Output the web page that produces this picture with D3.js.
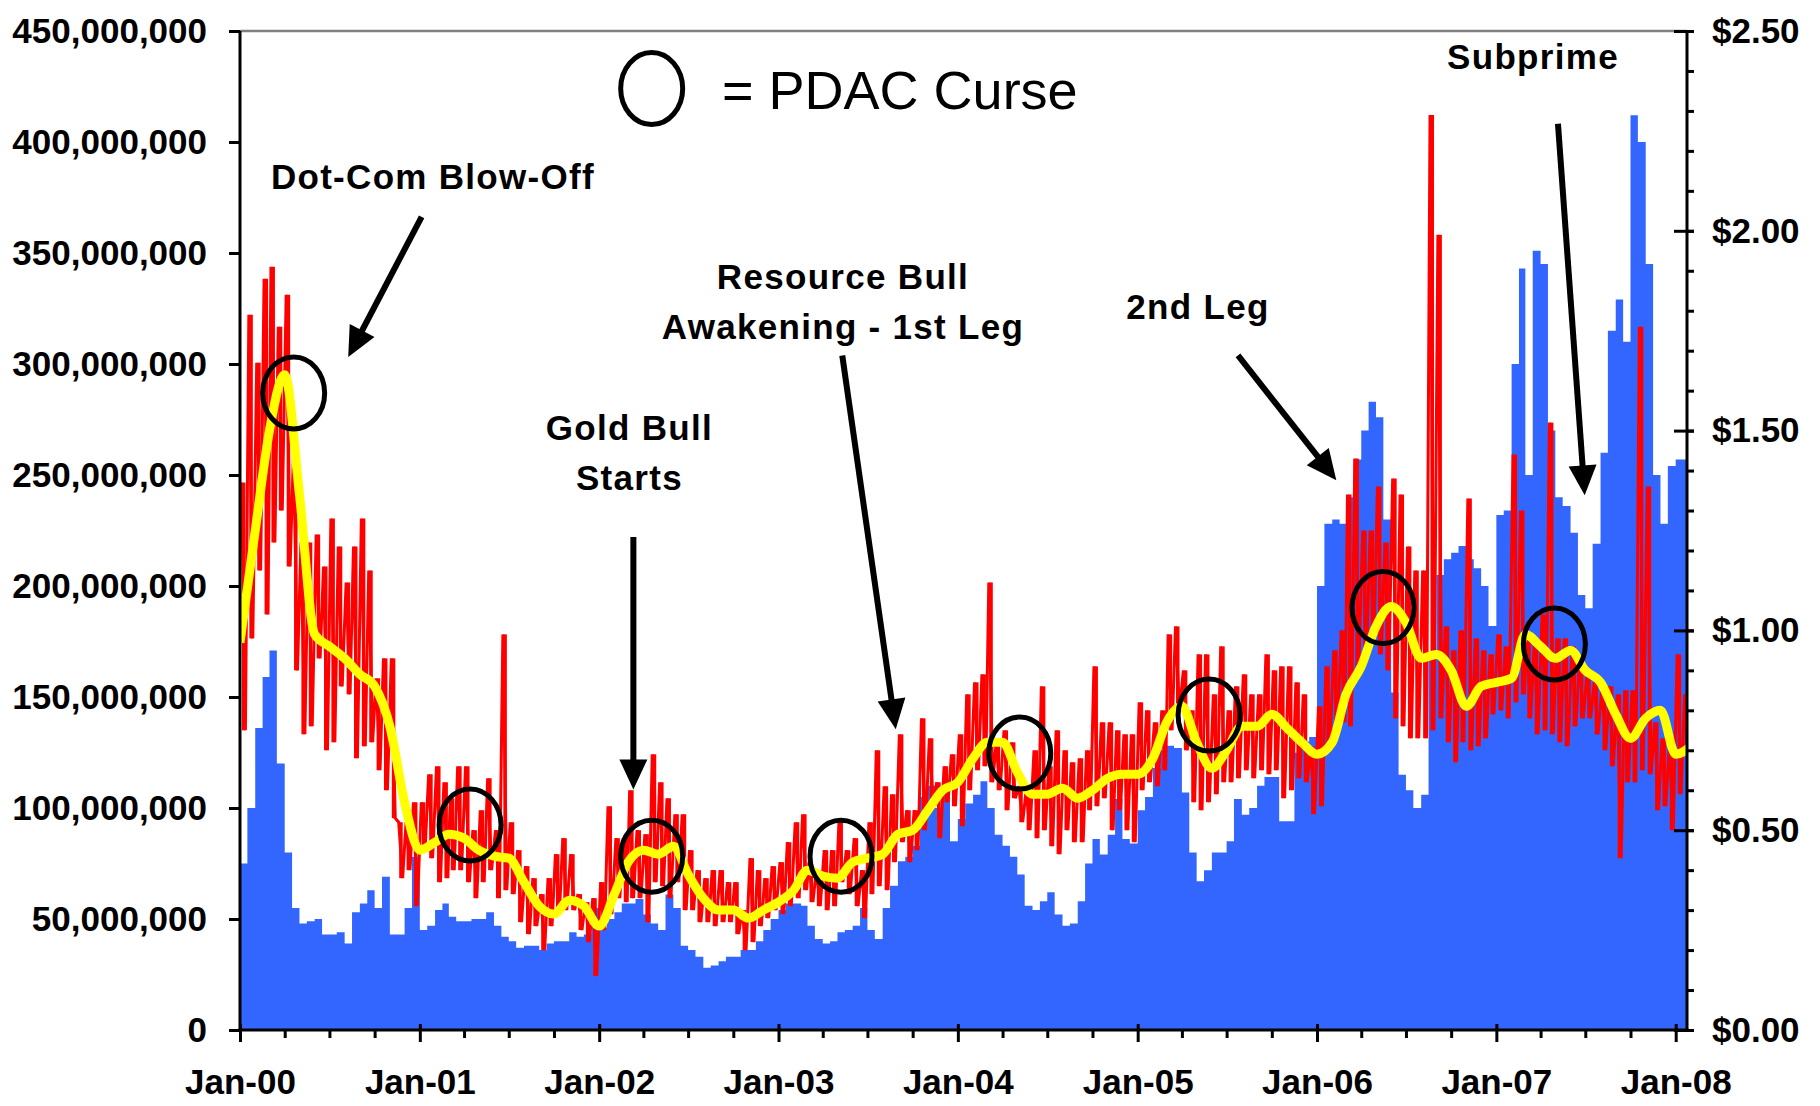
<!DOCTYPE html>
<html>
<head>
<meta charset="utf-8">
<title>PDAC Curse</title>
<script src="https://cdn.jsdelivr.net/npm/d3@7"></script>
<style>
body { margin: 0; background: #fff; }
svg { display: block; }
.axis text { font: bold 35px "Liberation Sans", Arial, sans-serif; fill: #000; }
.axis line { stroke: #000; stroke-width: 3; }
.axis path { display: none; }
.note text { font: bold 35px "Liberation Sans", Arial, sans-serif; letter-spacing: 1.3px; fill: #000; text-anchor: middle; }
.legend text { font: 54px "Liberation Sans", Arial, sans-serif; fill: #000; }
</style>
</head>
<body>
<div id="chart"></div>
<script>
// volume in millions of shares, two periods a month (1st and 16th), Jan-00 .. Jan-08
var volume = [
  75,100,136,159,171,120,80,55,48,49,50,43,43,44,39,53,57,63,55,69,43,43,55,78,
  45,47,54,57,51,49,49,50,50,53,47,42,40,37,38,38,36,39,40,40,44,42,43,55,
  46,50,53,57,57,59,52,48,45,61,55,38,36,33,28,29,31,33,33,36,36,40,45,50,
  54,57,57,56,47,41,39,40,44,45,47,55,45,41,55,65,76,78,83,105,110,100,110,85,
  95,102,106,112,100,88,83,78,70,56,54,58,62,52,47,48,58,75,86,79,88,104,86,84,
  99,105,118,126,128,127,107,80,67,72,80,80,85,104,97,100,110,114,114,94,94,125,130,132,
  200,228,230,228,240,257,270,283,276,230,152,115,108,100,106,170,205,212,215,218,212,208,200,182,
  232,234,300,343,250,351,345,270,240,236,224,196,190,219,260,315,329,310,412,400,345,250,228,254,
  257,257
];

// daily price range ($) for the same periods
var priceHigh = [
  1.37,1.79,1.67,1.88,1.91,1.76,1.84,1.45,1.22,1.22,1.24,1.16,1.28,1.21,1.12,1.21,1.28,1.15,0.88,0.93,0.93,0.52,0.52,0.57,
  0.57,0.64,0.66,0.62,0.58,0.66,0.66,0.50,0.55,0.63,0.50,0.99,0.52,0.45,0.41,0.38,0.34,0.38,0.44,0.48,0.44,0.34,0.32,0.33,
  0.37,0.56,0.48,0.48,0.60,0.50,0.49,0.69,0.62,0.58,0.54,0.54,0.45,0.40,0.38,0.40,0.40,0.37,0.37,0.30,0.43,0.40,0.38,0.41,
  0.42,0.47,0.52,0.54,0.42,0.40,0.45,0.45,0.52,0.45,0.48,0.40,0.52,0.70,0.61,0.59,0.74,0.55,0.55,0.78,0.73,0.62,0.66,0.69,
  0.74,0.84,0.87,0.89,1.12,0.72,0.75,0.72,0.61,0.60,0.70,0.86,0.66,0.75,0.70,0.67,0.68,0.70,0.91,0.77,0.77,0.75,0.74,0.74,
  0.82,0.80,0.77,0.80,0.99,1.01,0.90,0.80,0.94,0.94,0.84,0.96,0.80,0.86,0.89,0.84,0.84,0.94,0.90,0.91,0.91,0.87,0.84,0.71,
  0.81,0.91,0.95,1.00,1.34,1.43,1.25,1.25,1.36,1.22,1.38,1.34,1.21,1.15,1.15,2.29,1.99,1.01,0.95,1.00,1.33,0.98,0.95,0.94,
  0.99,0.96,1.44,1.30,0.98,0.97,1.04,1.52,0.98,0.98,0.96,0.93,0.89,0.87,0.86,0.86,0.84,0.85,0.85,1.76,1.36,0.77,0.73,0.72,
  0.94,0.84
];
var priceLow = [
  0.75,0.98,1.15,1.04,1.22,1.30,1.16,0.90,0.74,0.76,0.93,0.70,0.72,0.86,0.84,0.68,0.71,0.72,0.65,0.60,0.53,0.38,0.40,0.31,
  0.46,0.43,0.37,0.38,0.40,0.40,0.37,0.33,0.37,0.40,0.33,0.35,0.34,0.27,0.24,0.26,0.20,0.26,0.29,0.30,0.30,0.25,0.22,0.135,
  0.25,0.29,0.33,0.32,0.33,0.33,0.27,0.37,0.36,0.33,0.37,0.30,0.30,0.27,0.27,0.26,0.27,0.27,0.24,0.20,0.22,0.26,0.28,0.30,
  0.29,0.31,0.33,0.35,0.32,0.31,0.30,0.31,0.37,0.34,0.31,0.28,0.34,0.36,0.35,0.42,0.47,0.42,0.45,0.50,0.56,0.48,0.57,0.56,
  0.51,0.60,0.65,0.66,0.62,0.60,0.55,0.58,0.52,0.50,0.48,0.50,0.46,0.44,0.50,0.47,0.47,0.55,0.56,0.58,0.50,0.55,0.50,0.47,
  0.60,0.62,0.61,0.65,0.75,0.80,0.70,0.57,0.55,0.57,0.59,0.62,0.62,0.63,0.65,0.63,0.65,0.64,0.65,0.58,0.60,0.63,0.62,0.54,
  0.56,0.70,0.74,0.77,0.76,0.90,0.93,0.97,0.94,0.90,0.78,0.76,0.73,0.73,0.73,0.75,0.78,0.72,0.67,0.72,0.70,0.71,0.73,0.79,
  0.80,0.78,0.82,0.84,0.78,0.74,0.75,0.74,0.72,0.71,0.76,0.78,0.78,0.74,0.70,0.66,0.43,0.62,0.62,0.65,0.64,0.55,0.56,0.50,
  0.59,0.71
];

// moving average ($), first of each month from Jan-00
var priceAvg = [
  0.97,1.25,1.50,1.64,1.34,0.99,0.96,0.93,0.89,0.86,0.76,0.57,
  0.45,0.47,0.49,0.48,0.45,0.435,0.43,0.37,0.31,0.29,0.325,0.31,
  0.26,0.34,0.42,0.45,0.44,0.46,0.39,0.33,0.30,0.30,0.28,0.30,
  0.32,0.35,0.40,0.385,0.38,0.42,0.43,0.44,0.49,0.50,0.55,0.60,
  0.62,0.68,0.72,0.72,0.645,0.59,0.59,0.605,0.58,0.60,0.63,0.64,
  0.64,0.68,0.77,0.81,0.72,0.655,0.70,0.76,0.76,0.79,0.755,0.72,
  0.69,0.72,0.84,0.91,1.01,1.06,1.02,0.93,0.94,0.90,0.81,0.86,
  0.87,0.88,0.99,0.96,0.93,0.95,0.90,0.87,0.79,0.73,0.78,0.80,
  0.69,0.71
];

// PDAC curse circles: decimal year, price
var curseYears  = [2000.299, 2001.282, 2002.294, 2003.349, 2004.345, 2005.400, 2006.369, 2007.324];
var cursePrices = [1.594, 0.513, 0.435, 0.435, 0.693, 0.788, 1.057, 0.966];

var notes = [
  {lines: ["Dot-Com Blow-Off"], yr: 2001.075, p: 2.105},
  {lines: ["Gold Bull", "Starts"], yr: 2002.170, p: 1.476},
  {lines: ["Resource Bull", "Awakening - 1st Leg"], yr: 2003.360, p: 1.855},
  {lines: ["2nd Leg"], yr: 2005.338, p: 1.780},
  {lines: ["Subprime"], yr: 2007.205, p: 2.405}
];
var arrows = [
  {from: [2001.012, 2.035], to: [2000.603, 1.684]},
  {from: [2002.192, 1.234], to: [2002.192, 0.602]},
  {from: [2003.356, 1.688], to: [2003.654, 0.7525]},
  {from: [2005.561, 1.688], to: [2006.109, 1.376]},
  {from: [2007.344, 2.268], to: [2007.493, 1.338]}
];

var W = 1820, H = 1106;
var plot = {left: 240, right: 1687, top: 31, bottom: 1030};

var svg = d3.select("#chart").append("svg").attr("width", W).attr("height", H);

var start = new Date(2000, 0, 1), end = new Date(2008, 0, 24);
var x = d3.scaleTime().domain([start, end]).range([plot.left, plot.right]);
var yVol = d3.scaleLinear().domain([0, 450e6]).range([plot.bottom, plot.top]);
var yPrice = d3.scaleLinear().domain([0, 2.5]).range([plot.bottom, plot.top]);

function periodDate(k) {
  return new Date(2000 + Math.floor(k / 24), Math.floor((k % 24) / 2), k % 2 ? 16 : 1);
}
function yearDate(yr) {
  return new Date(start.getTime() + (yr - 2000) * 365.25 * 864e5);
}

svg.append("clipPath").attr("id", "clip").append("rect")
  .attr("x", plot.left).attr("y", plot.top)
  .attr("width", plot.right - plot.left).attr("height", plot.bottom - plot.top);

var g = svg.append("g").attr("clip-path", "url(#clip)");

// volume area
var volData = volume.map(function(v, k) { return {d: periodDate(k), v: v * 1e6}; });
volData.push({d: end, v: volume[volume.length - 1] * 1e6});
g.append("path")
  .datum(volData)
  .attr("fill", "#3366ff")
  .attr("d", d3.area().curve(d3.curveStepAfter)
    .x(function(d) { return x(d.d); })
    .y0(yVol(0))
    .y1(function(d) { return yVol(d.v); }));

// daily price: high/low range bars plus the swings between them
g.append("g").selectAll("rect")
  .data(priceHigh)
  .enter().append("rect")
    .attr("x", function(d, k) { return x(d3.timeDay.offset(periodDate(k), 4)); })
    .attr("width", 3.5)
    .attr("y", function(d) { return yPrice(d); })
    .attr("height", function(d, k) { return yPrice(priceLow[k]) - yPrice(d); })
    .attr("fill", "#ff0000");

var pricePts = [];
priceHigh.forEach(function(h, k) {
  var d0 = periodDate(k);
  pricePts.push([d3.timeDay.offset(d0, 3), h]);
  pricePts.push([d3.timeDay.offset(d0, 11), priceLow[k]]);
});
g.append("path")
  .datum(pricePts)
  .attr("fill", "none")
  .attr("stroke", "#ff0000")
  .attr("stroke-width", 3)
  .attr("d", d3.line()
    .x(function(d) { return x(d[0]); })
    .y(function(d) { return yPrice(d[1]); }));

// moving average
g.append("path")
  .datum(priceAvg)
  .attr("fill", "none")
  .attr("stroke", "#ffff00")
  .attr("stroke-width", 9)
  .attr("stroke-linejoin", "round")
  .attr("d", d3.line().curve(d3.curveMonotoneX)
    .x(function(d, i) { return x(new Date(2000, i, 1)); })
    .y(function(d) { return yPrice(d); }));

// curse circles
svg.append("g").selectAll("ellipse")
  .data(curseYears)
  .enter().append("ellipse")
    .attr("cx", function(d) { return x(yearDate(d)); })
    .attr("cy", function(d, i) { return yPrice(cursePrices[i]); })
    .attr("rx", 31).attr("ry", 36)
    .attr("fill", "none").attr("stroke", "#000").attr("stroke-width", 5);

// frame
svg.append("line")
  .attr("x1", plot.left).attr("x2", plot.right)
  .attr("y1", plot.top).attr("y2", plot.top)
  .attr("stroke", "#808080").attr("stroke-width", 2.5);

// left axis
svg.append("g").attr("class", "axis")
  .attr("transform", "translate(" + plot.left + ",0)")
  .call(d3.axisLeft(yVol).tickValues(d3.range(0, 450e6 + 1, 50e6))
    .tickSize(11).tickPadding(22).tickFormat(d3.format(",")));

// right axis
svg.append("g").attr("class", "axis")
  .attr("transform", "translate(" + plot.right + ",0)")
  .call(d3.axisRight(yPrice).tickValues(d3.range(0, 2.51, 0.1))
    .tickSize(7).tickFormat(""));
svg.append("g").attr("class", "axis")
  .attr("transform", "translate(" + plot.right + ",0)")
  .call(d3.axisRight(yPrice).tickValues(d3.range(0, 2.51, 0.5))
    .tickSize(7).tickPadding(18).tickFormat(function(d) { return "$" + d3.format(".2f")(d); }));
svg.append("g").attr("class", "axis")
  .attr("transform", "translate(" + plot.right + ",0)")
  .call(d3.axisLeft(yPrice).tickValues(d3.range(0, 2.51, 0.5))
    .tickSize(13).tickFormat(""));

// bottom axis
var years = d3.timeYear.range(start, end);
var quarters = d3.timeMonth.every(3).range(start, end).filter(function(d) { return d.getMonth() !== 0; });
svg.append("g").attr("class", "axis")
  .attr("transform", "translate(0," + plot.bottom + ")")
  .call(d3.axisBottom(x).tickValues(quarters).tickSize(8).tickFormat(""));
svg.append("g").attr("class", "axis")
  .attr("transform", "translate(0," + plot.bottom + ")")
  .call(d3.axisBottom(x).tickValues(years).tickSize(12).tickPadding(27)
    .tickFormat(d3.timeFormat("%b-%y")));
svg.append("g").attr("class", "axis")
  .attr("transform", "translate(0," + plot.bottom + ")")
  .call(d3.axisTop(x).tickValues(years).tickSize(6).tickFormat(""));

// axis lines
[[plot.left, plot.top, plot.left, plot.bottom + 1.5],
 [plot.right, plot.top, plot.right, plot.bottom + 1.5],
 [plot.left - 1.5, plot.bottom, plot.right + 1.5, plot.bottom]].forEach(function(l) {
  svg.append("line")
    .attr("x1", l[0]).attr("y1", l[1]).attr("x2", l[2]).attr("y2", l[3])
    .attr("stroke", "#000").attr("stroke-width", 3);
});

// annotations
var note = svg.append("g").attr("class", "note");
notes.forEach(function(n) {
  var t = note.append("text")
    .attr("x", x(yearDate(n.yr)))
    .attr("y", yPrice(n.p));
  n.lines.forEach(function(s, i) {
    t.append("tspan")
      .attr("x", x(yearDate(n.yr)))
      .attr("dy", i ? 50 : 0)
      .text(s);
  });
});

arrows.forEach(function(a) {
  var x1 = x(yearDate(a.from[0])), y1 = yPrice(a.from[1]);
  var x2 = x(yearDate(a.to[0])), y2 = yPrice(a.to[1]);
  var len = Math.hypot(x2 - x1, y2 - y1), ux = (x2 - x1) / len, uy = (y2 - y1) / len;
  var headLen = 30, headW = 14;
  var bx = x2 - ux * headLen, by = y2 - uy * headLen;
  svg.append("line")
    .attr("x1", x1).attr("y1", y1).attr("x2", bx + ux * 2).attr("y2", by + uy * 2)
    .attr("stroke", "#000").attr("stroke-width", 6);
  svg.append("polygon")
    .attr("points", [[x2, y2], [bx - uy * headW, by + ux * headW], [bx + uy * headW, by - ux * headW]].join(" "))
    .attr("fill", "#000");
});

// legend
var legend = svg.append("g").attr("class", "legend");
legend.append("ellipse")
  .attr("cx", x(yearDate(2002.294))).attr("cy", yPrice(2.356))
  .attr("rx", 31).attr("ry", 36)
  .attr("fill", "none").attr("stroke", "#000").attr("stroke-width", 5);
legend.append("text")
  .attr("x", x(yearDate(2002.686))).attr("y", yPrice(2.306))
  .text("= PDAC Curse");
</script>
</body>
</html>
